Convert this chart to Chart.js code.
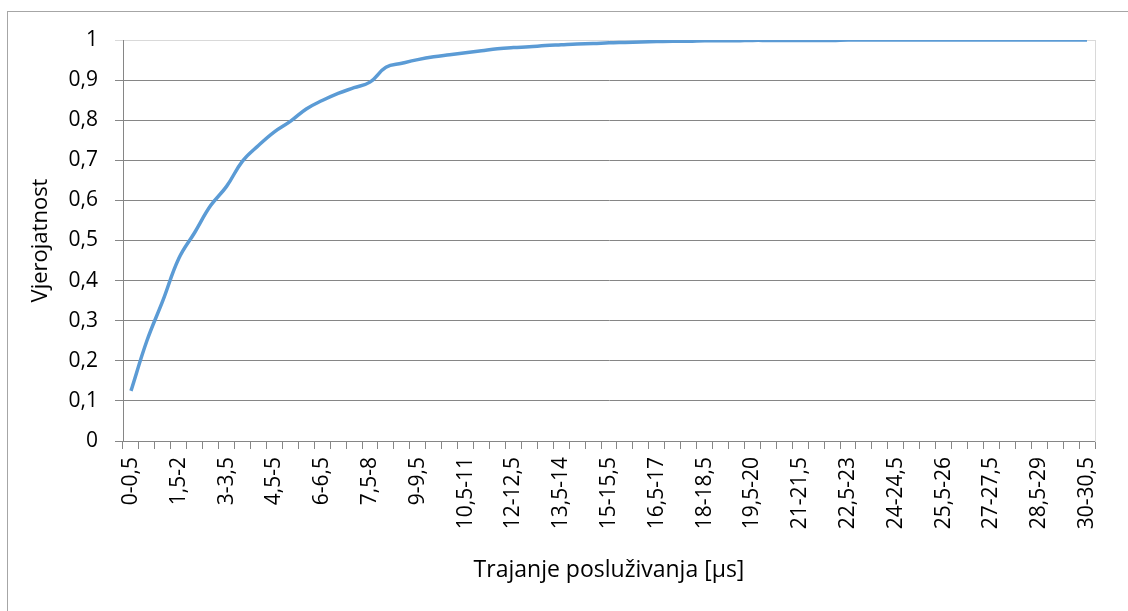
<!DOCTYPE html>
<html lang="hr">
  <head>
    <meta charset="UTF-8" />
    <title>Trajanje posluživanja</title>
    <script src="https://cdn.jsdelivr.net/npm/chart.js"></script>
    <style>
      html, body {
        margin: 0;
        padding: 0;
        background: #fff;
        overflow: hidden;
      }
      .okvir {
        position: absolute;
        left: 7px;
        top: 11px;
        width: 1200px;
        height: 700px;
        border: 1px solid #a6a6a6;
      }
      canvas {
        position: absolute;
        left: 0;
        top: 0;
      }
    </style>
  </head>
  <body>
    <div class="okvir"></div>
    <canvas id="grafik" width="1128" height="611"></canvas>

    <script>
      const kategorije = [
        "0-0,5", "0,5-1", "1-1,5", "1,5-2", "2-2,5", "2,5-3", "3-3,5", "3,5-4",
        "4-4,5", "4,5-5", "5-5,5", "5,5-6", "6-6,5", "6,5-7", "7-7,5", "7,5-8",
        "8-8,5", "8,5-9", "9-9,5", "9,5-10", "10-10,5", "10,5-11", "11-11,5",
        "11,5-12", "12-12,5", "12,5-13", "13-13,5", "13,5-14", "14-14,5",
        "14,5-15", "15-15,5", "15,5-16", "16-16,5", "16,5-17", "17-17,5",
        "17,5-18", "18-18,5", "18,5-19", "19-19,5", "19,5-20", "20-20,5",
        "20,5-21", "21-21,5", "21,5-22", "22-22,5", "22,5-23", "23-23,5",
        "23,5-24", "24-24,5", "24,5-25", "25-25,5", "25,5-26", "26-26,5",
        "26,5-27", "27-27,5", "27,5-28", "28-28,5", "28,5-29", "29-29,5",
        "29,5-30", "30-30,5"
      ];

      const vjerojatnost = [
        0.125, 0.25, 0.35, 0.455, 0.52, 0.587, 0.635, 0.698, 0.737, 0.771,
        0.797, 0.828, 0.849, 0.867, 0.881, 0.895, 0.932, 0.942, 0.951, 0.958,
        0.963, 0.968, 0.973, 0.978, 0.981, 0.983, 0.986, 0.988, 0.99, 0.991,
        0.993, 0.994, 0.995, 0.996, 0.997, 0.997, 0.998, 0.998, 0.998, 0.999,
        0.999, 0.999, 0.999, 0.999, 0.999, 1, 1, 1, 1, 1,
        1, 1, 1, 1, 1, 1, 1, 1, 1, 1,
        1
      ];

      const font = "'Open Sans', Lato, sans-serif";
      const sivaMreza = "#868686";

      const ctx = document.getElementById("grafik").getContext("2d");
      new Chart(ctx, {
        type: "line",
        data: {
          labels: kategorije,
          datasets: [
            {
              label: "Vjerojatnost",
              data: vjerojatnost,
              borderColor: "#5b9bd5",
              borderWidth: 3.5,
              pointRadius: 0,
              tension: 0.4,
              fill: false,
            },
          ],
        },
        options: {
          responsive: false,
          animation: false,
          layout: {
            padding: { top: 40, right: 33, left: 0, bottom: 0 },
          },
          plugins: {
            legend: { display: false },
            tooltip: { enabled: false },
          },
          scales: {
            x: {
              offset: true,
              grid: {
                offset: true,
                drawOnChartArea: false,
                tickLength: 8,
                color: sivaMreza,
              },
              border: { color: sivaMreza },
              ticks: {
                autoSkip: false,
                maxRotation: 90,
                minRotation: 90,
                padding: 8,
                color: "#000",
                font: { family: font, size: 21 },
                callback: (v, i) => (i % 3 === 0 ? kategorije[i] : ""),
              },
              title: {
                display: true,
                text: "Trajanje posluživanja [µs]",
                color: "#000",
                font: { family: font, size: 23 },
                padding: { top: 0, bottom: 27 },
              },
              afterFit: (s) => {
                s.height = 170;
              },
            },
            y: {
              min: 0,
              max: 1,
              grid: {
                tickLength: 8,
                color: (c) => (c.tick && c.tick.value === 1 ? "#d9d9d9" : sivaMreza),
              },
              border: { color: sivaMreza },
              ticks: {
                stepSize: 0.1,
                padding: 17,
                color: "#000",
                font: { family: font, size: 21 },
                callback: (v) => String(Number(v.toFixed(1))).replace(".", ","),
              },
              title: {
                display: true,
                text: "Vjerojatnost",
                color: "#000",
                font: { family: font, size: 22 },
                padding: { top: 28, bottom: 0 },
              },
              afterFit: (s) => {
                s.width = 123;
              },
            },
            desno: {
              position: "right",
              display: true,
              min: 0,
              max: 1,
              ticks: { display: false },
              grid: { drawOnChartArea: false, tickLength: 0 },
              border: { color: "#d9d9d9" },
              afterFit: (s) => {
                s.width = 0;
              },
            },
          },
        },
      });
    </script>
  </body>
</html>
